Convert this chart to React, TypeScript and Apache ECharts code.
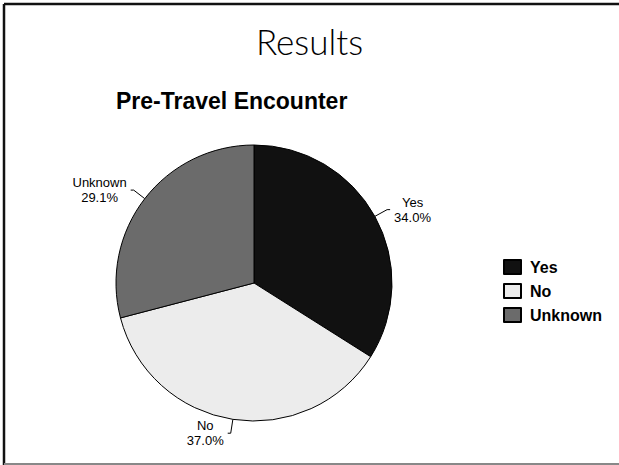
import React, { useEffect, useRef } from "react";
import * as echarts from "echarts";

const categories = ["Yes", "No", "Unknown"];
const values = [34.0, 37.0, 29.1];
const colors = ["#111111", "#ececec", "#6b6b6b"];
const chartTitle = "Results";
const chartSubtitle = "Pre-Travel Encounter";

export default function App() {
  const ref = useRef<HTMLDivElement>(null);
  useEffect(() => {
    document.body.style.margin = "0";
    const chart = echarts.init(ref.current!, undefined, { renderer: "svg" });
    chart.setOption({
      animation: false,
      backgroundColor: "#ffffff",
      title: [
        {
          text: chartTitle,
          left: "center",
          top: 18,
          textStyle: {
            fontFamily: "Lato",
            fontSize: 35,
            fontWeight: 300,
            color: "#000",
          },
        },
        {
          text: chartSubtitle,
          left: 111,
          top: 84,
          textStyle: {
            fontFamily: "Liberation Sans",
            fontSize: 23,
            fontWeight: "bold",
            color: "#000",
          },
        },
      ],
      legend: {
        orient: "vertical",
        left: 498,
        top: 254,
        itemWidth: 17,
        itemHeight: 14,
        itemGap: 8,
        icon: "rect",
        data: categories,
        textStyle: {
          fontFamily: "Liberation Sans",
          fontSize: 16,
          fontWeight: "bold",
          color: "#000",
          lineHeight: 14,
          padding: [0, 0, 0, 4],
        },
      },
      graphic: [
        { type: "line", shape: { x1: 4, y1: 4, x2: 619, y2: 4 }, style: { stroke: "#111", lineWidth: 2.5 } },
        { type: "line", shape: { x1: 4, y1: 4, x2: 4, y2: 465 }, style: { stroke: "#111", lineWidth: 2.5 } },
        { type: "line", shape: { x1: 4, y1: 464, x2: 619, y2: 464 }, style: { stroke: "#888", lineWidth: 2 } },
      ],
      series: [
        {
          type: "pie",
          center: [254, 283],
          radius: 138,
          startAngle: 90,
          clockwise: true,
          avoidLabelOverlap: false,
          data: categories.map((c, i) => ({
            name: c,
            value: values[i],
            itemStyle: { color: colors[i] },
          })),
          itemStyle: { borderColor: "#000", borderWidth: 1 },
          label: {
            show: true,
            position: "outside",
            distanceToLabelLine: 4,
            formatter: (p: any) => `{a|${p.name}}\n{a|${p.value.toFixed(1)}%}`,
            rich: {
              a: {
                align: "center",
                fontFamily: "Liberation Sans",
                fontSize: 13,
                lineHeight: 15,
                color: "#000",
              },
            },
          },
          labelLine: {
            show: true,
            length: 14,
            length2: 3,
            lineStyle: { color: "#000", width: 1 },
          },
          emphasis: { disabled: true },
        },
      ],
    });
    return () => chart.dispose();
  }, []);
  return (
    <div
      ref={ref}
      style={{ position: "absolute", left: 0, top: 0, width: 619, height: 465 }}
    />
  );
}
